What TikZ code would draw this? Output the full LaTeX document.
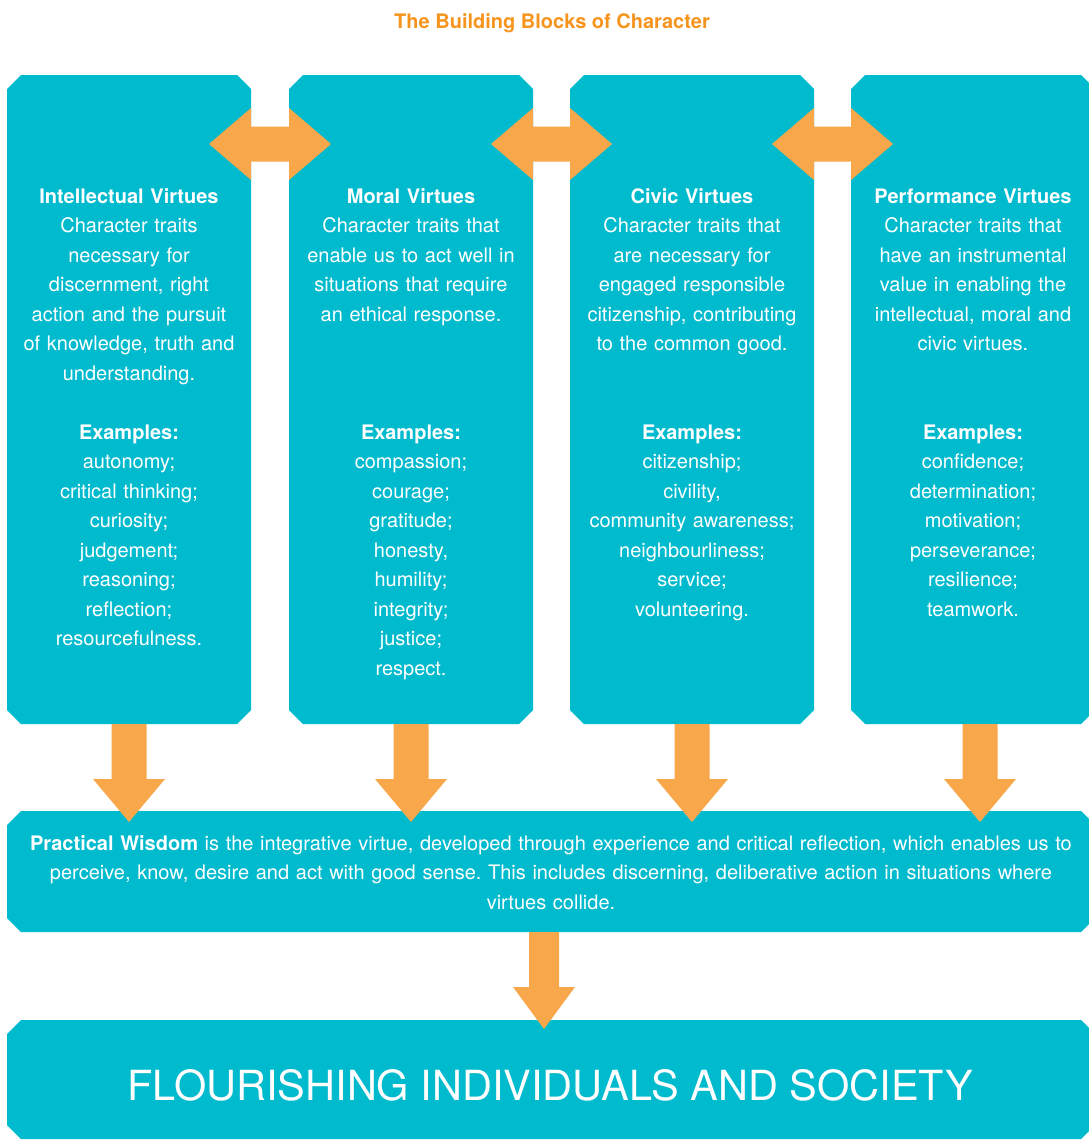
\documentclass[tikz,border=0pt]{standalone}
\usepackage{xcolor}
\usepackage{fontspec}
\setmainfont{TeX Gyre Heros}
\usepackage{tikz}
\usetikzlibrary {calc,positioning}
\definecolor{boxcyan}{RGB}{0,186,206}
\definecolor{arroworange}{RGB}{249,167,75}
\definecolor{titleorange}{RGB}{247,148,30}
\frenchspacing

\begin{document}
\begin{tikzpicture}[x=1pt, y=-1pt,
  virtuebox/.style = {rectangle, inner sep=0pt, outer sep=0pt, minimum width=244pt, minimum height=649pt},
  boxtext/.style = {anchor=base, inner sep=0pt, text=white, align=center, text width=240pt,
    font=\fontsize{20}{29.5}\selectfont},
  fatarrow/.style = {fill=arroworange}]

\useasboundingbox (0,0) rectangle (1088,1140);

\node (title) at (552,29) [anchor=base, text=titleorange, font=\bfseries\fontsize{20}{24}\selectfont]{The Building Blocks of Character};

\node (intel) at (129,399.5) [virtuebox]{};
\node (moral) at (411,399.5) [virtuebox]{};
\node (civic) at (692,399.5) [virtuebox]{};
\node (perf) at (973,399.5) [virtuebox]{};

\node (wisdom) at (551,871.5) [virtuebox, minimum width=1088pt, minimum height=121pt]{};
\node (flourish) at (551,1079.5) [virtuebox, minimum width=1088pt, minimum height=119pt]{};

\foreach \n in {intel, moral, civic, perf, wisdom, flourish}{
  \fill[boxcyan] ($(\n.north west)+(14,0)$) -- ($(\n.north east)+(-14,0)$) -- ($(\n.north east)+(0,14)$)
    -- ($(\n.south east)+(0,-14)$) -- ($(\n.south east)+(-14,0)$) -- ($(\n.south west)+(14,0)$)
    -- ($(\n.south west)+(0,-14)$) -- ($(\n.north west)+(0,14)$) -- cycle;
}

\foreach \a/\b in {intel/moral, moral/civic, civic/perf}{
  \coordinate (l) at ($(\a.north east)+(0,69)$);
  \coordinate (r) at ($(\b.north west)+(0,69)$);
  \fill[fatarrow] ($(l)+(-42,0)$) -- ($(l)+(0,-36)$) -- ($(l)+(0,-17.5)$) -- ($(r)+(0,-17.5)$)
    -- ($(r)+(0,-36)$) -- ($(r)+(42,0)$) -- ($(r)+(0,36)$) -- ($(r)+(0,17.5)$)
    -- ($(l)+(0,17.5)$) -- ($(l)+(0,36)$) -- cycle;
}

\foreach \a/\dx in {intel/0, moral/0, civic/0, perf/7}{
  \coordinate (t) at ($(\a.south)+(\dx,0)$);
  \coordinate (h) at (t |- wisdom.north);
  \fill[fatarrow] ($(t)+(-17.5,0)$) -- ($(t)+(17.5,0)$) -- ($(h)+(17.5,-32)$) -- ($(h)+(36,-32)$)
    -- ($(h)+(0,11)$) -- ($(h)+(-36,-32)$) -- ($(h)+(-17.5,-32)$) -- cycle;
}

\coordinate (t) at ($(wisdom.south)+(-7,0)$);
\coordinate (h) at (t |- flourish.north);
\fill[fatarrow] ($(t)+(-15,0)$) -- ($(t)+(15,0)$) -- ($(h)+(15,-33)$) -- ($(h)+(31,-33)$)
  -- ($(h)+(0,9)$) -- ($(h)+(-31,-33)$) -- ($(h)+(-15,-33)$) -- cycle;

\node (intel-desc) at (129,203) [boxtext]{\textbf{Intellectual Virtues}\\ Character traits\\ necessary for\\ discernment, right\\ action and the pursuit\\ of knowledge, truth and\\ understanding.};
\node (moral-desc) at (411,203) [boxtext]{\textbf{Moral Virtues}\\ Character traits that\\ enable us to act well in\\ situations that require\\ an ethical response.};
\node (civic-desc) at (692,203) [boxtext]{\textbf{Civic Virtues}\\ Character traits that\\ are necessary for\\ engaged responsible\\ citizenship, contributing\\ to the common good.};
\node (perf-desc) at (973,203) [boxtext]{\textbf{Performance Virtues}\\ Character traits that\\ have an instrumental\\ value in enabling the\\ intellectual, moral and\\ civic virtues.};

\node (intel-ex) at (129,439) [boxtext]{\textbf{Examples:}\\ autonomy;\\ critical thinking;\\ curiosity;\\ judgement;\\ reasoning;\\ reflection;\\ resourcefulness.};
\node (moral-ex) at (411,439) [boxtext]{\textbf{Examples:}\\ compassion;\\ courage;\\ gratitude;\\ honesty,\\ humility;\\ integrity;\\ justice;\\ respect.};
\node (civic-ex) at (692,439) [boxtext]{\textbf{Examples:}\\ citizenship;\\ civility,\\ community awareness;\\ neighbourliness;\\ service;\\ volunteering.};
\node (perf-ex) at (973,439) [boxtext]{\textbf{Examples:}\\ confidence;\\ determination;\\ motivation;\\ perseverance;\\ resilience;\\ teamwork.};

\node (wisdom-txt) at (551,850) [boxtext, text width=1070pt]{\textbf{Practical Wisdom} is the integrative virtue, developed through experience and critical reflection, which enables us to\\ perceive, know, desire and act with good sense. This includes discerning, deliberative action in situations where\\ virtues collide.};

\node (flourish-txt) at (550,1100) [anchor=base, inner sep=0pt, text=white, font=\fontsize{41.5}{48}\selectfont]{FLOURISHING INDIVIDUALS AND SOCIETY};

\end{tikzpicture}
\end{document}
